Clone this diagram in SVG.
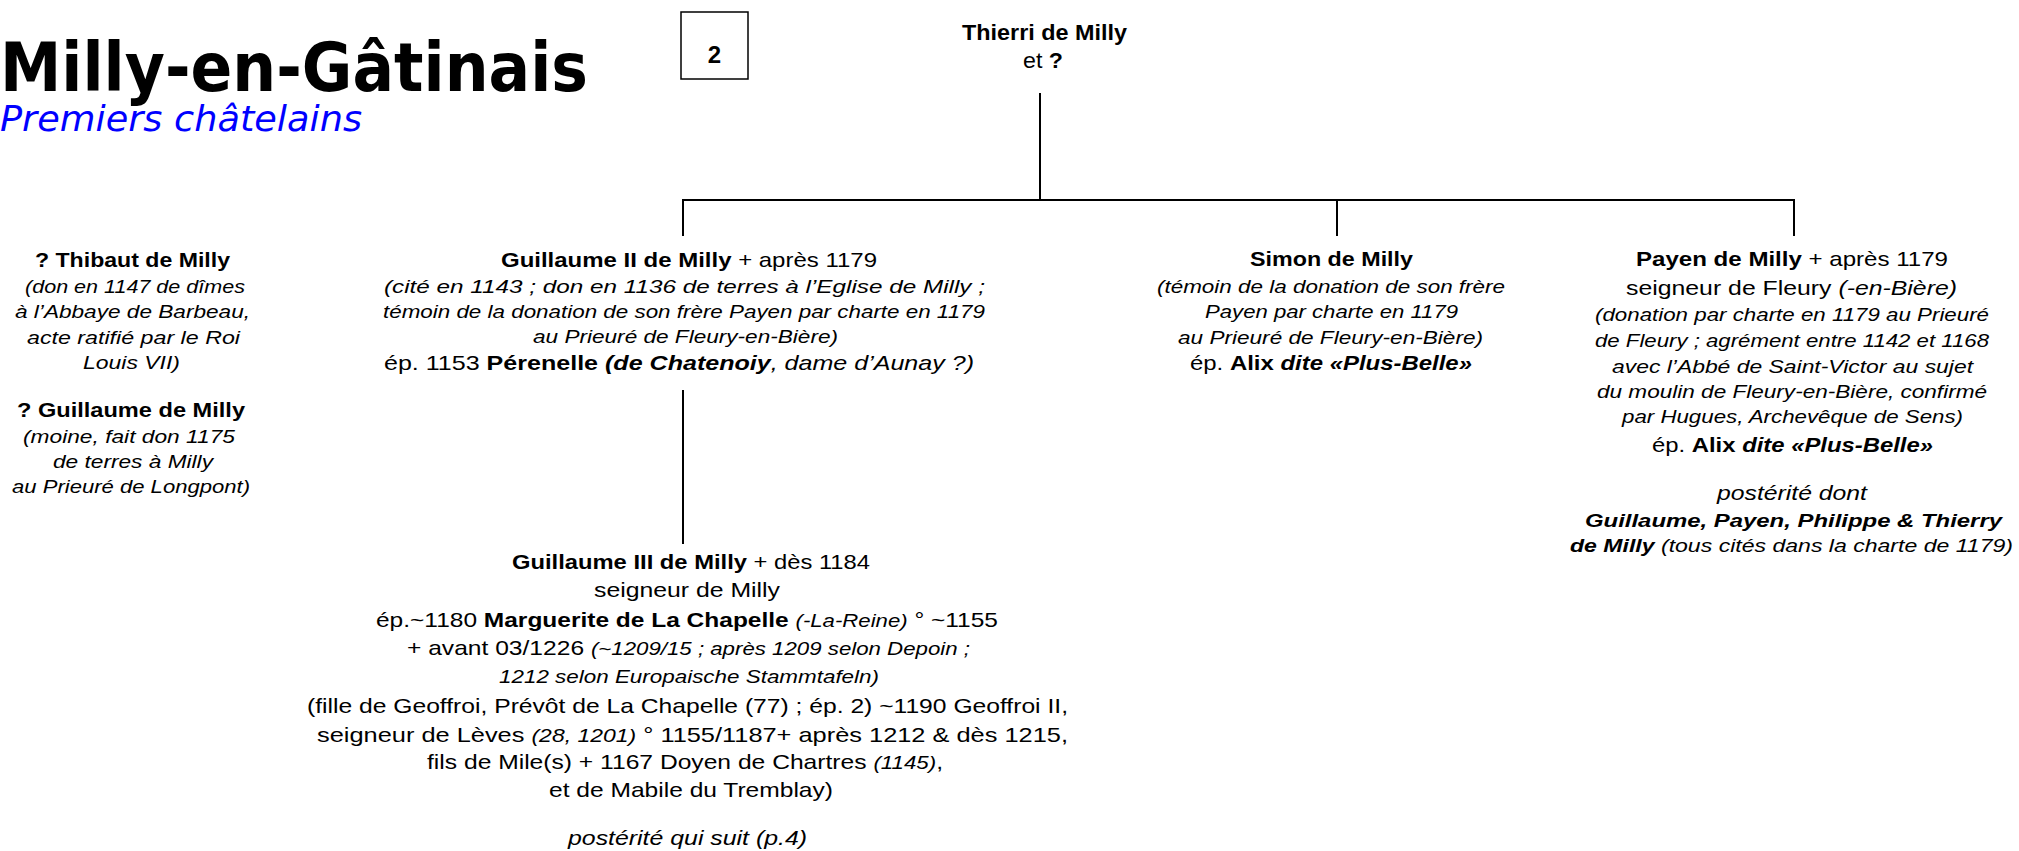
<svg xmlns="http://www.w3.org/2000/svg" width="2019" height="851" viewBox="0 0 2019 851">
<style>
text { font-family: "Liberation Sans", Arial, sans-serif; fill: #000; font-size: 21px; }
.s { font-size: 19px; font-style: italic; }
.b { font-weight: bold; }
.i { font-style: italic; }
.si { font-size: 19px; font-style: italic; }
.title { font-family: "DejaVu Sans", Verdana, sans-serif; font-weight: bold; font-size: 68px; }
.sub { font-family: "DejaVu Sans", Verdana, sans-serif; font-style: italic; font-size: 36px; fill: #0000ff; }
</style>
<rect width="2019" height="851" fill="#fff"/>

<g id="title">
<text class="title" x="0" y="91" textLength="588" lengthAdjust="spacingAndGlyphs">Milly-en-Gâtinais</text>
<text class="sub" x="0" y="131" textLength="362" lengthAdjust="spacingAndGlyphs">Premiers châtelains</text>
</g>

<g id="page-number">
<rect x="681" y="12" width="67" height="67" fill="#fff" stroke="#000" stroke-width="1.5"/>
<text class="b" x="714.5" y="63" text-anchor="middle" style="font-size:24px">2</text>
</g>

<g id="connectors" stroke="#000" stroke-width="2" fill="none">
<line x1="1040" y1="93" x2="1040" y2="200"/>
<polyline points="683,236 683,200 1794,200 1794,236"/>
<line x1="1337" y1="200" x2="1337" y2="236"/>
<line x1="683" y1="390" x2="683" y2="544"/>
</g>

<g id="thierri">
<text class="b" x="962" y="40" textLength="165" lengthAdjust="spacingAndGlyphs" style="font-size:22px">Thierri de Milly</text>
<text x="1023" y="68" textLength="40" lengthAdjust="spacingAndGlyphs" style="font-size:22px">et <tspan class="b">?</tspan></text>
</g>

<g id="thibaut">
<text class="b" x="35" y="267" textLength="195" lengthAdjust="spacingAndGlyphs">? Thibaut de Milly</text>
<text class="s" x="25" y="293" textLength="220" lengthAdjust="spacingAndGlyphs">(don en 1147 de dîmes</text>
<text class="s" x="15" y="318" textLength="235" lengthAdjust="spacingAndGlyphs">à l’Abbaye de Barbeau,</text>
<text class="s" x="27" y="344" textLength="213" lengthAdjust="spacingAndGlyphs">acte ratifié par le Roi</text>
<text class="s" x="83" y="369" textLength="97" lengthAdjust="spacingAndGlyphs">Louis VII)</text>
</g>

<g id="guillaume-moine">
<text class="b" x="17" y="417" textLength="228" lengthAdjust="spacingAndGlyphs">? Guillaume de Milly</text>
<text class="s" x="23" y="443" textLength="212" lengthAdjust="spacingAndGlyphs">(moine, fait don 1175</text>
<text class="s" x="53" y="468" textLength="160" lengthAdjust="spacingAndGlyphs">de terres à Milly</text>
<text class="s" x="12" y="493" textLength="238" lengthAdjust="spacingAndGlyphs">au Prieuré de Longpont)</text>
</g>

<g id="guillaume-ii">
<text x="501" y="267" textLength="376" lengthAdjust="spacingAndGlyphs"><tspan class="b">Guillaume II de Milly</tspan> + après 1179</text>
<text class="s" x="384" y="293" textLength="601" lengthAdjust="spacingAndGlyphs">(cité en 1143 ; don en 1136 de terres à l’Eglise de Milly ;</text>
<text class="s" x="383" y="318" textLength="602" lengthAdjust="spacingAndGlyphs">témoin de la donation de son frère Payen par charte en 1179</text>
<text class="s" x="533" y="343" textLength="305" lengthAdjust="spacingAndGlyphs">au Prieuré de Fleury-en-Bière)</text>
<text x="384" y="370" textLength="590" lengthAdjust="spacingAndGlyphs">ép. 1153 <tspan class="b">Pérenelle <tspan class="i">(de Chatenoiy</tspan></tspan><tspan class="i">, dame d’Aunay ?)</tspan></text>
</g>

<g id="simon">
<text class="b" x="1250" y="266" textLength="163" lengthAdjust="spacingAndGlyphs">Simon de Milly</text>
<text class="s" x="1157" y="293" textLength="348" lengthAdjust="spacingAndGlyphs">(témoin de la donation de son frère</text>
<text class="s" x="1205" y="318" textLength="253" lengthAdjust="spacingAndGlyphs">Payen par charte en 1179</text>
<text class="s" x="1178" y="344" textLength="305" lengthAdjust="spacingAndGlyphs">au Prieuré de Fleury-en-Bière)</text>
<text x="1190" y="370" textLength="282" lengthAdjust="spacingAndGlyphs">ép. <tspan class="b">Alix <tspan class="i">dite «Plus-Belle»</tspan></tspan></text>
</g>

<g id="payen">
<text x="1636" y="266" textLength="312" lengthAdjust="spacingAndGlyphs"><tspan class="b">Payen de Milly</tspan> + après 1179</text>
<text x="1626" y="295" textLength="331" lengthAdjust="spacingAndGlyphs">seigneur de Fleury <tspan class="i">(-en-Bière)</tspan></text>
<text class="s" x="1595" y="321" textLength="394" lengthAdjust="spacingAndGlyphs">(donation par charte en 1179 au Prieuré</text>
<text class="s" x="1595" y="347" textLength="394" lengthAdjust="spacingAndGlyphs">de Fleury ; agrément entre 1142 et 1168</text>
<text class="s" x="1612" y="373" textLength="361" lengthAdjust="spacingAndGlyphs">avec l’Abbé de Saint-Victor au sujet</text>
<text class="s" x="1597" y="398" textLength="390" lengthAdjust="spacingAndGlyphs">du moulin de Fleury-en-Bière, confirmé</text>
<text class="s" x="1622" y="423" textLength="341" lengthAdjust="spacingAndGlyphs">par Hugues, Archevêque de Sens)</text>
<text x="1652" y="452" textLength="281" lengthAdjust="spacingAndGlyphs">ép. <tspan class="b">Alix <tspan class="i">dite «Plus-Belle»</tspan></tspan></text>
<text class="i" x="1717" y="500" textLength="150" lengthAdjust="spacingAndGlyphs">postérité dont</text>
<text class="s b" x="1585" y="527" textLength="417" lengthAdjust="spacingAndGlyphs">Guillaume, Payen, Philippe &amp; Thierry</text>
<text class="s" x="1570" y="552" textLength="443" lengthAdjust="spacingAndGlyphs"><tspan class="b">de Milly</tspan> (tous cités dans la charte de 1179)</text>
</g>

<g id="guillaume-iii">
<text x="512" y="569" textLength="358" lengthAdjust="spacingAndGlyphs"><tspan class="b">Guillaume III de Milly</tspan> + dès 1184</text>
<text x="594" y="597" textLength="186" lengthAdjust="spacingAndGlyphs">seigneur de Milly</text>
<text x="376" y="627" textLength="622" lengthAdjust="spacingAndGlyphs">ép.~1180 <tspan class="b">Marguerite de La Chapelle</tspan> <tspan class="si">(-La-Reine)</tspan> ° ~1155</text>
<text x="407" y="655" textLength="563" lengthAdjust="spacingAndGlyphs">+ avant 03/1226 <tspan class="si">(~1209/15 ; après 1209 selon Depoin ;</tspan></text>
<text class="s" x="499" y="683" textLength="380" lengthAdjust="spacingAndGlyphs">1212 selon Europaische Stammtafeln)</text>
<text x="307" y="713" textLength="761" lengthAdjust="spacingAndGlyphs">(fille de Geoffroi, Prévôt de La Chapelle (77) ; ép. 2) ~1190 Geoffroi II,</text>
<text x="317" y="742" textLength="751" lengthAdjust="spacingAndGlyphs">seigneur de Lèves <tspan class="si">(28, 1201)</tspan> ° 1155/1187+ après 1212 &amp; dès 1215,</text>
<text x="427" y="769" textLength="516" lengthAdjust="spacingAndGlyphs">fils de Mile(s) + 1167 Doyen de Chartres <tspan class="si">(1145)</tspan>,</text>
<text x="549" y="797" textLength="284" lengthAdjust="spacingAndGlyphs">et de Mabile du Tremblay)</text>
<text class="i" x="568" y="845" textLength="239" lengthAdjust="spacingAndGlyphs">postérité qui suit (p.4)</text>
</g>
</svg>
